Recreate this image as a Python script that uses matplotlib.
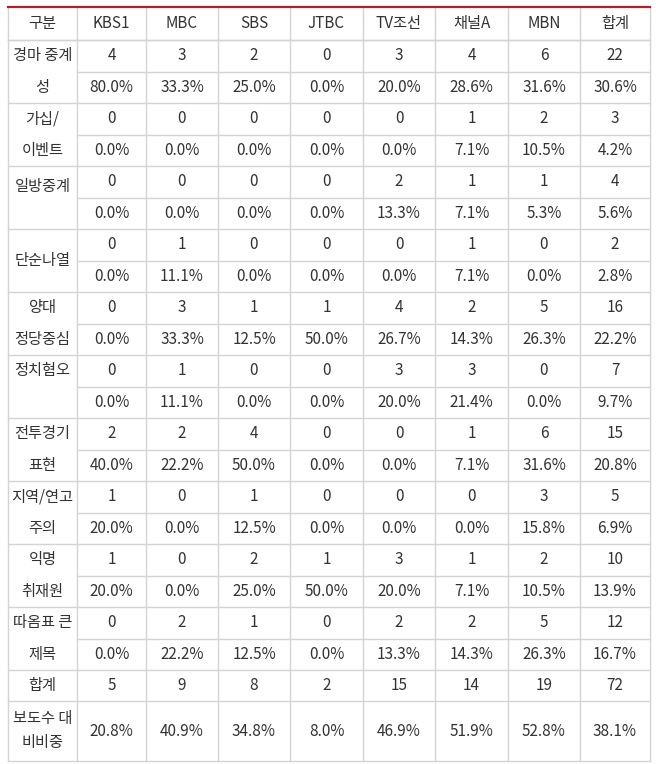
import matplotlib.pyplot as plt

plt.rcParams['font.family'] = ['Noto Sans CJK KR', 'DejaVu Sans']

columns = ['구분', 'KBS1', 'MBC', 'SBS', 'JTBC', 'TV조선', '채널A', 'MBN', '합계']
labels = [['경마 중계', '성'], ['가십/', '이벤트'], ['일방중계'], ['단순나열'], ['양대', '정당중심'],
          ['정치혐오'], ['전투경기', '표현'], ['지역/연고', '주의'], ['익명', '취재원'], ['따옴표 큰', '제목']]
counts = [
    [4, 3, 2, 0, 3, 4, 6, 22],
    [0, 0, 0, 0, 0, 1, 2, 3],
    [0, 0, 0, 0, 2, 1, 1, 4],
    [0, 1, 0, 0, 0, 1, 0, 2],
    [0, 3, 1, 1, 4, 2, 5, 16],
    [0, 1, 0, 0, 3, 3, 0, 7],
    [2, 2, 4, 0, 0, 1, 6, 15],
    [1, 0, 1, 0, 0, 0, 3, 5],
    [1, 0, 2, 1, 3, 1, 2, 10],
    [0, 2, 1, 0, 2, 2, 5, 12],
]
pcts = [
    [80.0, 33.3, 25.0, 0.0, 20.0, 28.6, 31.6, 30.6],
    [0.0, 0.0, 0.0, 0.0, 0.0, 7.1, 10.5, 4.2],
    [0.0, 0.0, 0.0, 0.0, 13.3, 7.1, 5.3, 5.6],
    [0.0, 11.1, 0.0, 0.0, 0.0, 7.1, 0.0, 2.8],
    [0.0, 33.3, 12.5, 50.0, 26.7, 14.3, 26.3, 22.2],
    [0.0, 11.1, 0.0, 0.0, 20.0, 21.4, 0.0, 9.7],
    [40.0, 22.2, 50.0, 0.0, 0.0, 7.1, 31.6, 20.8],
    [20.0, 0.0, 12.5, 0.0, 0.0, 0.0, 15.8, 6.9],
    [20.0, 0.0, 25.0, 50.0, 20.0, 7.1, 10.5, 13.9],
    [0.0, 22.2, 12.5, 0.0, 13.3, 14.3, 26.3, 16.7],
]
total_counts = [5, 9, 8, 2, 15, 14, 19, 72]
ratio = [20.8, 40.9, 34.8, 8.0, 46.9, 51.9, 52.8, 38.1]
# vertical offset (px from block top) for one-line labels
single_label_y = {'일방중계': 20, '단순나열': 31, '정치혐오': 15}

W, H = 658, 764
fig = plt.figure(figsize=(W / 100, H / 100), dpi=100)
ax = fig.add_axes([0, 0, 1, 1])
ax.set_xlim(0, W)
ax.set_ylim(H, 0)
ax.axis('off')

xs = [8, 77, 146, 218, 290, 363, 435, 508, 580, 650]
top, head_bot, block = 7, 40, 63
grid = '#d4d4d4'
fs = 11
tc = '#333333'

def cx(i):
    return (xs[i] + xs[i + 1]) / 2

def txt(x, y, s):
    ax.text(x, y, s, ha='center', va='center', fontsize=fs, color=tc)

for i, c in enumerate(columns):
    txt(cx(i), (top + head_bot) / 2, c)

y = head_bot
for k in range(len(labels)):
    y0, y1 = y, y + block
    ym = (y0 + y1) / 2
    ax.plot([xs[1], xs[-1]], [ym, ym], color=grid, lw=1)
    ax.plot([xs[0], xs[-1]], [y0, y0], color=grid, lw=1)
    lab = labels[k]
    if len(lab) == 2:
        txt(cx(0), (y0 + ym) / 2, lab[0])
        txt(cx(0), (ym + y1) / 2, lab[1])
    else:
        txt(cx(0), y0 + single_label_y.get(lab[0], 31), lab[0])
    for j in range(8):
        txt(cx(j + 1), (y0 + ym) / 2, str(counts[k][j]))
        txt(cx(j + 1), (ym + y1) / 2, f'{pcts[k][j]:.1f}%')
    y = y1

y0, y1 = y, y + 31
ax.plot([xs[0], xs[-1]], [y0, y0], color=grid, lw=1)
txt(cx(0), (y0 + y1) / 2, '합계')
for j in range(8):
    txt(cx(j + 1), (y0 + y1) / 2, str(total_counts[j]))

y2 = y1 + 60
ax.plot([xs[0], xs[-1]], [y1, y1], color=grid, lw=1)
txt(cx(0), y1 + 18, '보도수 대')
txt(cx(0), y1 + 42, '비비중')
for j in range(8):
    txt(cx(j + 1), (y1 + y2) / 2, f'{ratio[j]:.1f}%')
ax.plot([xs[0], xs[-1]], [y2, y2], color=grid, lw=1)
ax.plot([xs[0], xs[-1]], [head_bot, head_bot], color=grid, lw=1)

for x in xs:
    ax.plot([x, x], [top, y2], color=grid, lw=1)
ax.plot([xs[0], xs[-1]], [top, top], color='#b4202a', lw=1.6)

fig.savefig('out.png', dpi=100)
